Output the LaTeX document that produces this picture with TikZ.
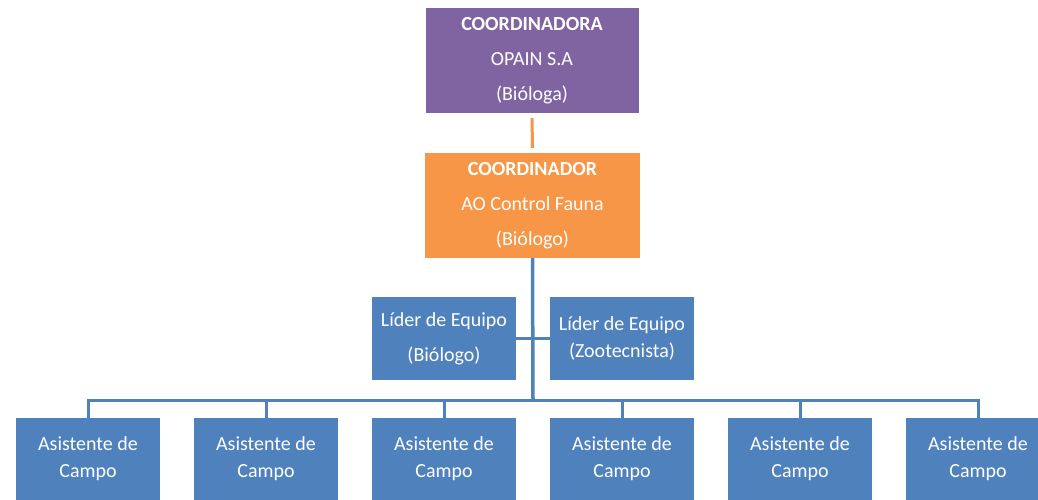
\documentclass[tikz,border=0pt]{standalone}
\usepackage{fontspec}
\setmainfont{Carlito}
\usepackage{xcolor}
\usetikzlibrary{positioning}
\definecolor{jefa}{HTML}{8064A2}
\definecolor{jefe}{HTML}{F79646}
\definecolor{equipo}{HTML}{4F81BD}

\begin{document}
\begin{tikzpicture}[x=1pt,y=-1pt,
    caja/.style={fill=#1, text=white, align=center, inner sep=0pt},
    grande/.style={minimum width=213pt, minimum height=105pt,
        font=\fontsize{20}{35}\selectfont},
    chica/.style={minimum width=144pt, minimum height=83pt,
        font=\fontsize{20}{27}\selectfont},
    linea/.style={draw=#1, line width=3.5pt}]
    \clip (0,0) rectangle (1038,500);

    \node[caja=jefa, grande] (coordinadora) at (532,60.5)
        {\textbf{COORDINADORA}\\OPAIN S.A\\(Bióloga)};
    \node[caja=jefe, grande, minimum width=215pt] (coordinador) at (532.5,205.5)
        {\textbf{COORDINADOR}\\AO Control Fauna\\(Biólogo)};

    \node[caja=equipo, chica, font=\fontsize{20}{35}\selectfont] (lider1) at (444,338.5)
        {Líder de Equipo\\(Biólogo)};
    \node[caja=equipo, chica] (lider2) at (622,338.5)
        {Líder de Equipo\\(Zootecnista)};

    \foreach \i in {1,...,6}
        \node[caja=equipo, chica, minimum height=82pt] (asistente\i) at ({88+178*(\i-1)},459)
            {Asistente de\\Campo};

    % conectores
    \draw[linea=jefe, line width=3pt, shorten <=5pt, shorten >=5pt]
        (coordinadora.south) -- (coordinador.north);
    \coordinate (bus) at (533,400);
    \draw[linea=equipo] (coordinador.south) -- (bus);
    \draw[linea=equipo] (lider1.east) -- (lider2.west);
    \foreach \i in {1,...,6}
        \draw[linea=equipo, line width=3pt] (bus) -| (asistente\i.north);
\end{tikzpicture}
\end{document}
